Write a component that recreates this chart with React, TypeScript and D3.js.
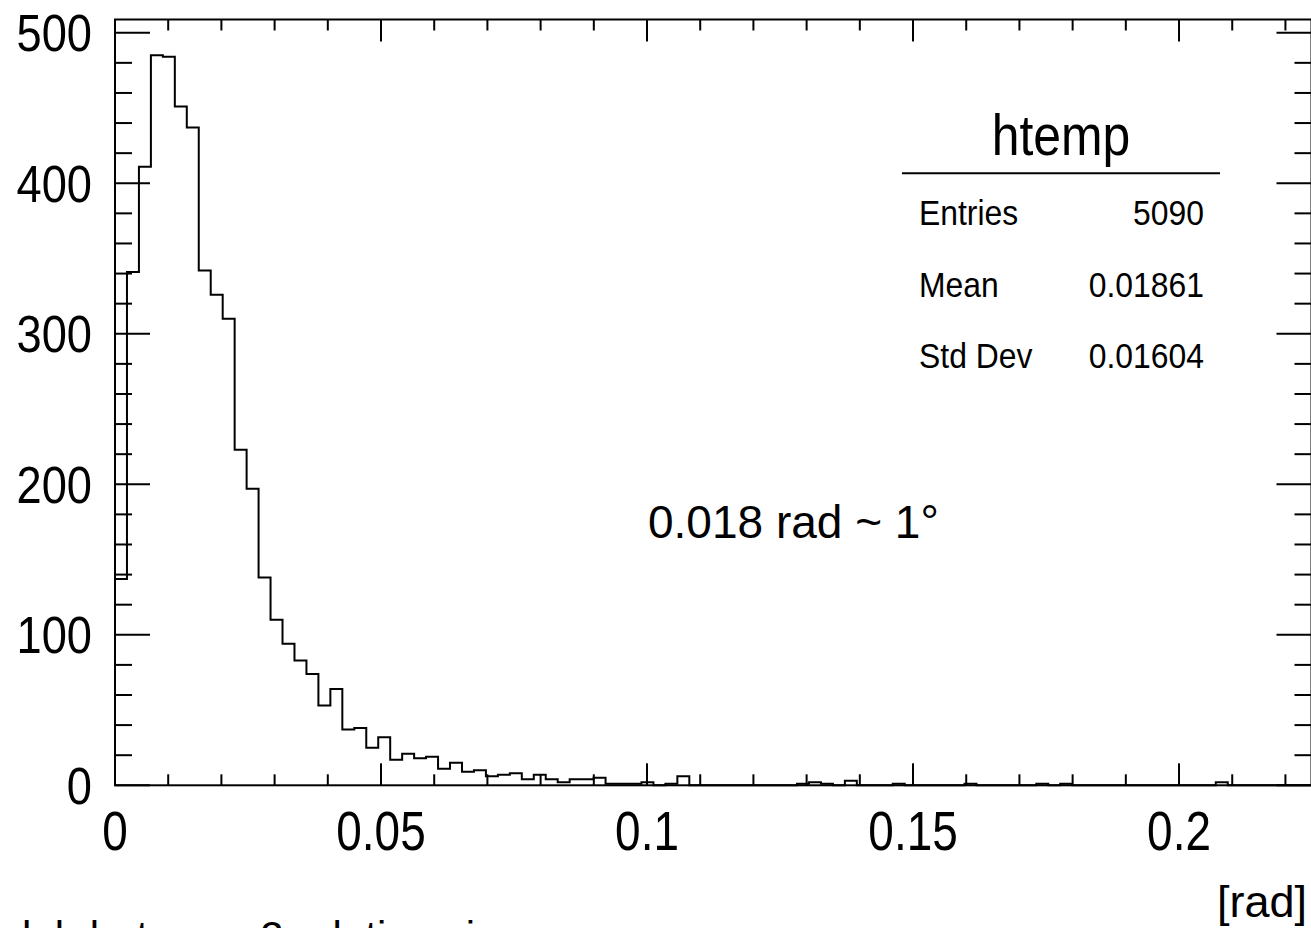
import React from 'react';
import * as d3 from 'd3';

// ---- data ----
const binCounts: number[] = [
  137, 341, 411, 485, 484, 451, 437, 342, 326, 310,
  223, 197, 138, 110, 94, 83, 74, 53, 64, 37,
  38, 25, 32, 17, 21, 18, 19, 11, 15, 9,
  10, 6, 7, 8, 4, 7, 4, 2, 4, 4,
  5, 1, 1, 1, 2, 0, 1, 6, 0, 0,
  0, 0, 0, 0, 0, 0, 0, 1, 2, 1,
  0, 3, 0, 0, 0, 1, 0, 0, 0, 0,
  0, 1, 0, 0, 0, 0, 0, 1, 0, 1,
  0, 0, 0, 0, 0, 0, 0, 0, 0, 0,
  0, 0, 2, 0, 0, 0, 0, 0, 0, 0,
];
const xRange: [number, number] = [0, 0.2249];
const yRange: [number, number] = [0, 508.8];
const xMajorTicks = [0, 0.05, 0.1, 0.15, 0.2];
const xTickLabels = ['0', '0.05', '0.1', '0.15', '0.2'];
const yMajorTicks = [0, 100, 200, 300, 400, 500];
const yTickLabels = ['0', '100', '200', '300', '400', '500'];
const statsTitle = 'htemp';
const statsLabels = ['Entries', 'Mean', 'Std Dev'];
const statsValues = ['5090', '0.01861', '0.01604'];
const annotation = '0.018 rad ~ 1°';
const xAxisTitle = '[rad]';
const bottomText = 'lab between 2 relative pions';

const W = 1311;
const H = 928;
const FONT = '"Liberation Sans", Arial, Helvetica, sans-serif';

export default function App() {
  const left = 115, right = 1311.5, top = 19.5, bottom = 785.3;
  const x = d3.scaleLinear().domain(xRange).range([left, right]);
  const y = d3.scaleLinear().domain(yRange).range([bottom, top]);

  const nb = binCounts.length;
  const bw = (xRange[1] - xRange[0]) / nb;
  const pts: [number, number][] = [[xRange[0], 0]];
  binCounts.forEach((c, i) => {
    pts.push([xRange[0] + i * bw, c]);
    pts.push([xRange[0] + (i + 1) * bw, c]);
  });
  pts.push([xRange[1], 0]);
  const line = d3.line<[number, number]>().x(d => x(d[0])).y(d => y(d[1]));
  const histPath = line(pts) || '';

  const xMinor = d3.range(0, xRange[1] + 1e-9, 0.01).filter(v => !xMajorTicks.some(m => Math.abs(m - v) < 1e-9));
  const yMinor = d3.range(0, yRange[1], 20).filter(v => v % 100 !== 0);

  const xMajLen = 22, xMinLen = 11, yMajLen = 35, yMinLen = 17;

  return (
    <svg width={W} height={H} style={{ position: 'absolute', left: 0, top: 0, background: '#fff' }}
      xmlns="http://www.w3.org/2000/svg">
      <rect x={0} y={0} width={W} height={H} fill="#fff" />
      {/* histogram */}
      <path d={histPath} fill="none" stroke="#000" strokeWidth={2} />
      {/* frame */}
      <rect x={left} y={top} width={right - left} height={bottom - top} fill="none" stroke="#000" strokeWidth={2} />
      {/* x ticks bottom & top */}
      {xMajorTicks.map((v, i) => (
        <g key={'xM' + i}>
          <line x1={x(v)} x2={x(v)} y1={bottom} y2={bottom - xMajLen} stroke="#000" strokeWidth={2} />
          <line x1={x(v)} x2={x(v)} y1={top} y2={top + xMajLen} stroke="#000" strokeWidth={2} />
        </g>
      ))}
      {xMinor.map((v, i) => (
        <g key={'xm' + i}>
          <line x1={x(v)} x2={x(v)} y1={bottom} y2={bottom - xMinLen} stroke="#000" strokeWidth={2} />
          <line x1={x(v)} x2={x(v)} y1={top} y2={top + xMinLen} stroke="#000" strokeWidth={2} />
        </g>
      ))}
      {/* y ticks left & right */}
      {yMajorTicks.map((v, i) => (
        <g key={'yM' + i}>
          <line x1={left} x2={left + yMajLen} y1={y(v)} y2={y(v)} stroke="#000" strokeWidth={2} />
          <line x1={right} x2={right - yMajLen} y1={y(v)} y2={y(v)} stroke="#000" strokeWidth={2} />
        </g>
      ))}
      {yMinor.map((v, i) => (
        <g key={'ym' + i}>
          <line x1={left} x2={left + yMinLen} y1={y(v)} y2={y(v)} stroke="#000" strokeWidth={2} />
          <line x1={right} x2={right - yMinLen} y1={y(v)} y2={y(v)} stroke="#000" strokeWidth={2} />
        </g>
      ))}
      {/* x tick labels */}
      {xMajorTicks.map((v, i) => (
        <text key={'xl' + i} transform={`translate(${x(v)},850) scale(0.82,1)`} textAnchor="middle"
          fontFamily={FONT} fontSize={56} fill="#000">{xTickLabels[i]}</text>
      ))}
      {/* y tick labels */}
      {yMajorTicks.map((v, i) => (
        <text key={'yl' + i} transform={`translate(92,${y(v) + 18.3}) scale(0.87,1)`} textAnchor="end"
          fontFamily={FONT} fontSize={52} fill="#000">{yTickLabels[i]}</text>
      ))}
      {/* stats box */}
      <text transform="translate(1061,155) scale(0.86,1)" textAnchor="middle" fontFamily={FONT} fontSize={58} fill="#000">{statsTitle}</text>
      <line x1={902} x2={1220} y1={173.3} y2={173.3} stroke="#000" strokeWidth={2} />
      {statsLabels.map((s, i) => (
        <g key={'st' + i}>
          <text transform={`translate(919,${225 + i * 71.7}) scale(0.886,1)`} fontFamily={FONT} fontSize={36} fill="#000">{s}</text>
          <text transform={`translate(1204,${225 + i * 71.7}) scale(0.886,1)`} textAnchor="end" fontFamily={FONT} fontSize={36} fill="#000">{statsValues[i]}</text>
        </g>
      ))}
      {/* annotation */}
      <text x={648} y={538} fontFamily={FONT} fontSize={46} fill="#000">{annotation}</text>
      {/* axis title */}
      <text x={1307} y={917} textAnchor="end" fontFamily={FONT} fontSize={45} fill="#000">{xAxisTitle}</text>
      {/* bottom (clipped) text */}
      <text x={22} y={951} fontFamily={FONT} fontSize={42} fill="#000">{bottomText}</text>
    </svg>
  );
}
